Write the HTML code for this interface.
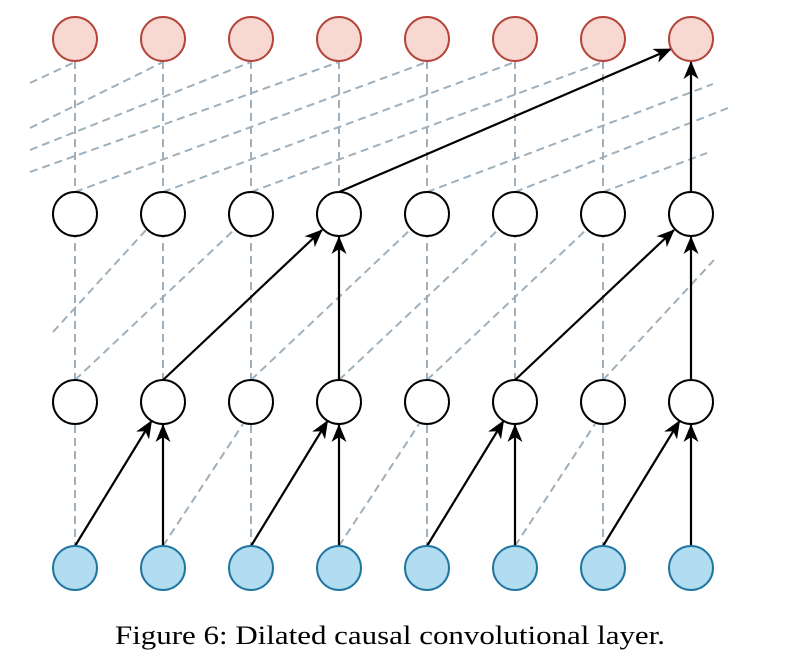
<!DOCTYPE html>
<html><head><meta charset="utf-8"><style>
html,body{margin:0;padding:0;background:#fff;}
svg{display:block;}
</style></head><body>
<svg width="788" height="660" viewBox="0 0 788 660" xmlns="http://www.w3.org/2000/svg">
<defs>
<marker id="ah" markerUnits="userSpaceOnUse" markerWidth="22" markerHeight="18" refX="17" refY="7.5" orient="auto">
<path d="M0,0 L18,7.5 L0,15 L5,7.5 z" fill="#000"/>
</marker>
</defs>
<g stroke="#9fb0bc" stroke-width="2" stroke-dasharray="8 5" fill="none">
<line x1="75" y1="61" x2="75" y2="546"/>
<line x1="163" y1="61" x2="163" y2="546"/>
<line x1="251" y1="61" x2="251" y2="546"/>
<line x1="339" y1="61" x2="339" y2="546"/>
<line x1="427" y1="61" x2="427" y2="546"/>
<line x1="515" y1="61" x2="515" y2="546"/>
<line x1="603" y1="61" x2="603" y2="546"/>
<line x1="691" y1="61" x2="691" y2="546"/>
<line x1="30" y1="83" x2="75" y2="62"/>
<line x1="30" y1="128" x2="163" y2="62"/>
<line x1="30" y1="150" x2="251" y2="62"/>
<line x1="30" y1="172" x2="339" y2="62"/>
<line x1="75" y1="192" x2="427" y2="62"/>
<line x1="163" y1="192" x2="515" y2="62"/>
<line x1="251" y1="192" x2="603" y2="62"/>
<line x1="427" y1="192" x2="713" y2="84"/>
<line x1="515" y1="192" x2="728" y2="108"/>
<line x1="603" y1="192" x2="707" y2="153"/>
<line x1="53" y1="332" x2="146" y2="230"/>
<line x1="75" y1="380" x2="234" y2="230"/>
<line x1="251" y1="380" x2="410" y2="230"/>
<line x1="339" y1="380" x2="498" y2="230"/>
<line x1="427" y1="380" x2="586" y2="230"/>
<line x1="603" y1="380" x2="714" y2="260"/>
<line x1="163" y1="546" x2="243" y2="424"/>
<line x1="339" y1="546" x2="419" y2="424"/>
<line x1="515" y1="546" x2="595" y2="424"/>
</g>
<g stroke="#000" stroke-width="2.2" fill="none" marker-end="url(#ah)">
<line x1="339" y1="192" x2="671" y2="49"/>
<line x1="691" y1="192" x2="691" y2="62"/>
<line x1="163" y1="380" x2="322" y2="230"/>
<line x1="339" y1="380" x2="339" y2="237"/>
<line x1="515" y1="380" x2="674" y2="230"/>
<line x1="691" y1="380" x2="691" y2="237"/>
<line x1="75" y1="546" x2="151.5" y2="421"/>
<line x1="163" y1="546" x2="163" y2="425"/>
<line x1="251" y1="546" x2="327.5" y2="421"/>
<line x1="339" y1="546" x2="339" y2="425"/>
<line x1="427" y1="546" x2="503.5" y2="421"/>
<line x1="515" y1="546" x2="515" y2="425"/>
<line x1="603" y1="546" x2="679.5" y2="421"/>
<line x1="691" y1="546" x2="691" y2="425"/>
</g>
<g fill="#f8d8d3" stroke="#b5453a" stroke-width="2">
<circle cx="75" cy="39" r="22"/><circle cx="163" cy="39" r="22"/><circle cx="251" cy="39" r="22"/><circle cx="339" cy="39" r="22"/>
<circle cx="427" cy="39" r="22"/><circle cx="515" cy="39" r="22"/><circle cx="603" cy="39" r="22"/><circle cx="691" cy="39" r="22"/>
</g>
<g fill="#fff" stroke="#000" stroke-width="2">
<circle cx="75" cy="214" r="22"/><circle cx="163" cy="214" r="22"/><circle cx="251" cy="214" r="22"/><circle cx="339" cy="214" r="22"/>
<circle cx="427" cy="214" r="22"/><circle cx="515" cy="214" r="22"/><circle cx="603" cy="214" r="22"/><circle cx="691" cy="214" r="22"/>
<circle cx="75" cy="402" r="22"/><circle cx="163" cy="402" r="22"/><circle cx="251" cy="402" r="22"/><circle cx="339" cy="402" r="22"/>
<circle cx="427" cy="402" r="22"/><circle cx="515" cy="402" r="22"/><circle cx="603" cy="402" r="22"/><circle cx="691" cy="402" r="22"/>
</g>
<g fill="#b2dcef" stroke="#1f77a1" stroke-width="2">
<circle cx="75" cy="568" r="22"/><circle cx="163" cy="568" r="22"/><circle cx="251" cy="568" r="22"/><circle cx="339" cy="568" r="22"/>
<circle cx="427" cy="568" r="22"/><circle cx="515" cy="568" r="22"/><circle cx="603" cy="568" r="22"/><circle cx="691" cy="568" r="22"/>
</g>
<text x="115" y="644" font-family="'Liberation Serif', serif" font-size="26" fill="#000" textLength="550" lengthAdjust="spacingAndGlyphs">Figure 6: Dilated causal convolutional layer.</text>
</svg>
</body></html>
